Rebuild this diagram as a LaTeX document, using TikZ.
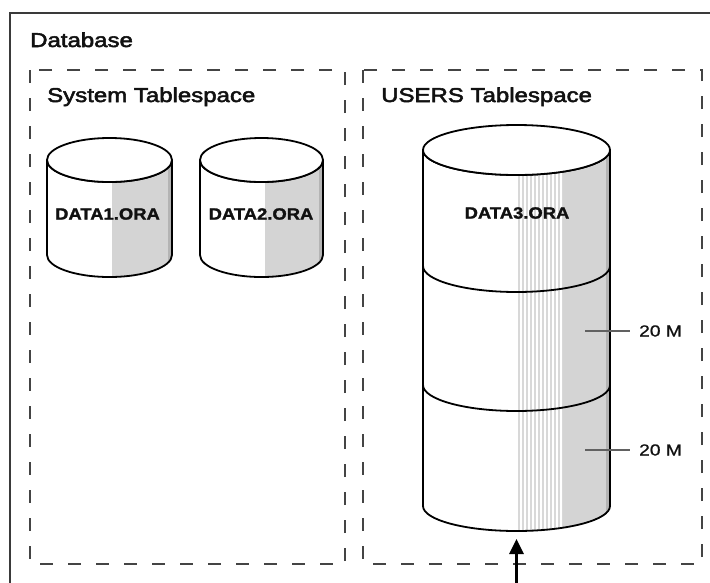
\documentclass[tikz,border=0pt]{standalone}
\usepackage{fontspec}
\setmainfont{Liberation Sans}
\newfontfamily\titlef[FakeStretch=1.2,FakeBold=2.6]{Liberation Sans}
\newfontfamily\labf[FakeStretch=1.13,FakeBold=1.6]{Liberation Sans}
\newfontfamily\numf[FakeStretch=1.2,FakeBold=0.8]{Liberation Sans}
\usetikzlibrary{arrows.meta}
\definecolor{ink}{HTML}{111111}
\definecolor{frame}{HTML}{3A3A3A}
\definecolor{dashc}{HTML}{444444}
\definecolor{shadeg}{HTML}{D4D4D4}
\definecolor{shaded}{HTML}{B4B4B4}
\definecolor{stripeg}{HTML}{D8D8D8}
\begin{document}
\begin{tikzpicture}[x=1pt,y=-1pt,
  cylb/.style n args={5}{insert path={({#1-#2},#4) -- ({#1-#2},#5)
     arc[start angle=180,end angle=0,x radius=#2,y radius=#3] -- ({#1+#2},#4)
     arc[start angle=0,end angle=180,x radius=#2,y radius=#3] -- cycle}},
  outline/.style={draw=black,line width=1.8pt,line join=round},
  tsbox/.style={draw=dashc,line width=2pt,dash pattern=on 13pt off 15pt},
  title/.style={anchor=base west,inner sep=0pt,text=ink,font=\titlef\fontsize{20}{22}\selectfont},
  filelbl/.style={inner sep=0pt,text=ink,font=\labf\bfseries\fontsize{16.3}{18}\selectfont},
  sizelbl/.style={anchor=west,inner sep=0pt,text=ink,font=\numf\fontsize{16}{18}\selectfont},
  leader/.style={draw=frame!80,line width=1.2pt},
  upar/.style={-{Triangle[width=14pt,length=15pt]},line width=3pt,draw=black}]
\useasboundingbox (0,0) rectangle (710,582);
\clip (0,0) rectangle (710,582);
\fill[white] (0,0) rectangle (710,582);

% outer database frame
\draw[draw=frame,line width=2pt] (10,600) -- (10,13) -- (720,13);
\node[title] (db) at (30,47) {Database};

% tablespace boxes
\draw[tsbox] (30,70) rectangle (345,564);
\draw[tsbox] (363,70) rectangle (702,564);
\node[title] (sys) at (47,102) {System Tablespace};
\node[title] (usr) at (381,102) {USERS Tablespace};

% cylinder 1
\fill[white,cylb={109.5}{62.5}{22}{160}{255}];
\begin{scope}
  \clip[cylb={109.5}{62.5}{22}{160}{255}];
  \fill[shadeg] (112,100) rectangle (168,300);
  \fill[shaded] (168,100) rectangle (173,300);
\end{scope}
\path[outline,cylb={109.5}{62.5}{22}{160}{255}];
\draw[outline,fill=white] (109.5,160) ellipse[x radius=62.5,y radius=22];
\node[filelbl] (d1) at (107.5,214) {DATA1.ORA};

% cylinder 2
\fill[white,cylb={261.5}{61.5}{22}{160}{255}];
\begin{scope}
  \clip[cylb={261.5}{61.5}{22}{160}{255}];
  \fill[shadeg] (265,100) rectangle (319,300);
  \fill[shaded] (319,100) rectangle (324,300);
\end{scope}
\path[outline,cylb={261.5}{61.5}{22}{160}{255}];
\draw[outline,fill=white] (261.5,160) ellipse[x radius=61.5,y radius=22];
\node[filelbl] (d2) at (261,214) {DATA2.ORA};

% cylinder 3
\fill[white,cylb={516.5}{93.5}{25}{150}{506}];
\begin{scope}
  \clip[cylb={516.5}{93.5}{25}{150}{506}];
  \foreach \sx in {518,522,...,562} {
    \fill[stripeg] (\sx,100) rectangle ({\sx+2.2},560);
  }
  \fill[shadeg] (563,100) rectangle (606,560);
  \fill[shaded] (606,100) rectangle (611,560);
\end{scope}
\path[outline,cylb={516.5}{93.5}{25}{150}{506}];
\draw[outline] (423,266) arc[start angle=180,end angle=0,x radius=93.5,y radius=26];
\draw[outline] (423,385) arc[start angle=180,end angle=0,x radius=93.5,y radius=26];
\draw[outline,fill=white] (516.5,150) ellipse[x radius=93.5,y radius=25];
\node[filelbl] (d3) at (517,213) {DATA3.ORA};
\coordinate (c3bot) at (516.5,539);

% size labels
\node[sizelbl] (s1) at (639,331) {20 M};
\node[sizelbl] (s2) at (639,450) {20 M};
\coordinate (e1) at (585,331);
\coordinate (e2) at (585,450);
\draw[leader] (e1) -- ([xshift=-9pt]s1.west);
\draw[leader] (e2) -- ([xshift=-9pt]s2.west);

% incoming arrow
\coordinate (astart) at (516.5,600);
\draw[upar] (astart) -- (c3bot);
\end{tikzpicture}
\end{document}
